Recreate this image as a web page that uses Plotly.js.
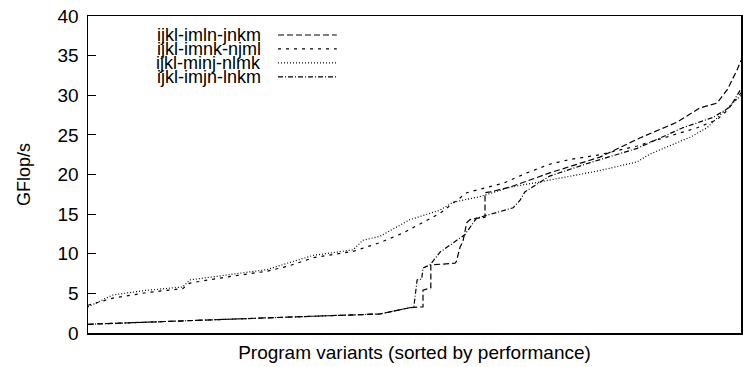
<!DOCTYPE html>
<html>
<head>
<meta charset="utf-8">
<script src="https://cdn.plot.ly/plotly-3.0.1.min.js"></script>
<style>html,body{margin:0;padding:0;background:#fff;}#chart{width:743px;height:367px;}</style>
</head>
<body>
<div id="chart"></div>
<script>
// Series names (legend order)
const seriesNames = ["ijkl-imln-jnkm", "ijkl-imnk-njml", "ijkl-minj-nlmk", "ijkl-imjn-lnkm"];

// x = program variant rank (normalized 0..100), y = GFlop/s
const xImln = [0, 15.6, 30.5, 44.7, 46.3, 49.3, 51.3, 51.3, 52.5, 52.5, 56.2, 56.4, 57.0, 57.4, 58.0, 58.5, 59.7, 60.8, 60.8, 61.6, 64.6, 70.7, 78.4, 84.5, 90.2, 93.7, 96.3, 97.9, 99.4, 100];
const yImln = [1.1, 1.6, 2.0, 2.4, 2.7, 3.2, 3.3, 5.4, 5.7, 8.6, 8.8, 9.0, 10.9, 11.5, 13.9, 14.3, 14.5, 14.6, 17.7, 17.8, 18.4, 20.2, 22.2, 24.6, 26.6, 28.4, 29.0, 30.7, 33.2, 34.4];

const xImnk = [0, 3.8, 9.0, 14.5, 15.6, 20.7, 27.4, 30.5, 34.5, 40.6, 43.2, 44.7, 48.2, 53.9, 58.0, 63.6, 67.2, 70.7, 73.8, 78.4, 84.1, 87.6, 93.3, 96.3, 97.9, 100];
const yImnk = [3.5, 4.4, 5.1, 5.6, 6.3, 7.0, 7.8, 8.4, 9.5, 10.3, 11.0, 11.4, 12.6, 15.1, 17.7, 18.9, 20.2, 21.3, 21.9, 22.5, 23.6, 24.5, 25.9, 26.9, 28.1, 30.3];

const xMinj = [0, 3.8, 9.0, 14.5, 15.6, 20.7, 27.4, 30.5, 34.5, 40.6, 42.1, 44.7, 49.3, 53.9, 55.9, 60.0, 64.6, 68.8, 73.8, 78.4, 84.1, 86.1, 92.2, 94.8, 96.8, 100];
const yMinj = [3.3, 4.8, 5.4, 5.8, 6.7, 7.3, 8.0, 8.8, 9.8, 10.5, 11.7, 12.2, 14.3, 15.5, 16.5, 17.2, 18.4, 19.0, 19.8, 20.5, 21.6, 22.6, 24.7, 25.9, 27.5, 30.0];

const xImjn = [0, 15.6, 30.5, 44.7, 46.3, 49.3, 49.9, 50.4, 51.1, 51.3, 52.4, 53.9, 55.4, 57.0, 57.7, 59.6, 60.0, 65.1, 66.2, 66.9, 68.8, 70.7, 76.9, 84.1, 91.1, 95.7, 98.3, 100];
const yImjn = [1.1, 1.6, 2.0, 2.4, 2.7, 3.2, 3.3, 6.7, 6.8, 8.2, 8.6, 10.2, 11.1, 12.0, 12.4, 14.6, 14.6, 15.8, 16.8, 17.8, 18.8, 19.8, 21.5, 23.3, 25.9, 27.2, 28.5, 30.8];

const yTickVals = [0, 5, 10, 15, 20, 25, 30, 35, 40];
const yTitle = "GFlop/s";
const xTitle = "Program variants (sorted by performance)";

const dashes = ["6px,3px", "3px,5px", "1px,2px", "5px,2px,1px,2px"];
const xs = [xImln, xImnk, xMinj, xImjn];
const ys = [yImln, yImnk, yMinj, yImjn];

const FONT = "Liberation Sans, Arial, Helvetica, sans-serif";

const traces = seriesNames.map((n, i) => ({
  x: xs[i], y: ys[i], name: n, type: "scatter", mode: "lines",
  line: {color: "#000", width: 1.2, dash: dashes[i]},
  showlegend: false, hoverinfo: "skip"
}));

// manual gnuplot-style legend: text on the left, line sample on the right
const legY = [0.940, 0.896, 0.852, 0.808];
const annotations = seriesNames.map((n, i) => ({
  xref: "paper", yref: "paper", x: 0.268, y: legY[i],
  xanchor: "right", yanchor: "middle", text: n, showarrow: false,
  font: {family: FONT, size: 18, color: "#000"}
}));
const shapes = seriesNames.map((n, i) => ({
  type: "line", xref: "paper", yref: "paper",
  x0: 0.291, x1: 0.381, y0: legY[i], y1: legY[i],
  line: {color: "#000", width: 1.2, dash: dashes[i]}
}));

const layout = {
  width: 743, height: 367,
  margin: {l: 88, r: 2, t: 16, b: 34, pad: 0},
  paper_bgcolor: "#fff", plot_bgcolor: "#fff",
  font: {family: FONT, size: 18, color: "#000"},
  showlegend: false,
  xaxis: {
    range: [0, 100], showticklabels: false, ticks: "", showgrid: false, zeroline: false,
    showline: true, linecolor: "#000", linewidth: 1.5, mirror: true,
    title: {text: xTitle, font: {family: FONT, size: 19, color: "#000"}, standoff: 12},
    automargin: false, fixedrange: true
  },
  yaxis: {
    range: [0, 40], tickvals: yTickVals, ticktext: yTickVals.map(String),
    ticks: "inside", ticklen: 8, tickwidth: 1.2, tickcolor: "#000",
    showgrid: false, zeroline: false,
    showline: true, linecolor: "#000", linewidth: 1.5, mirror: true,
    ticklabelstandoff: 4,
    tickfont: {family: FONT, size: 19, color: "#000"},
    title: {text: yTitle, font: {family: FONT, size: 18, color: "#000"}, standoff: 22},
    automargin: false, fixedrange: true
  },
  annotations: annotations,
  shapes: shapes
};

Plotly.newPlot("chart", traces, layout, {staticPlot: true, displayModeBar: false});
</script>
</body>
</html>
